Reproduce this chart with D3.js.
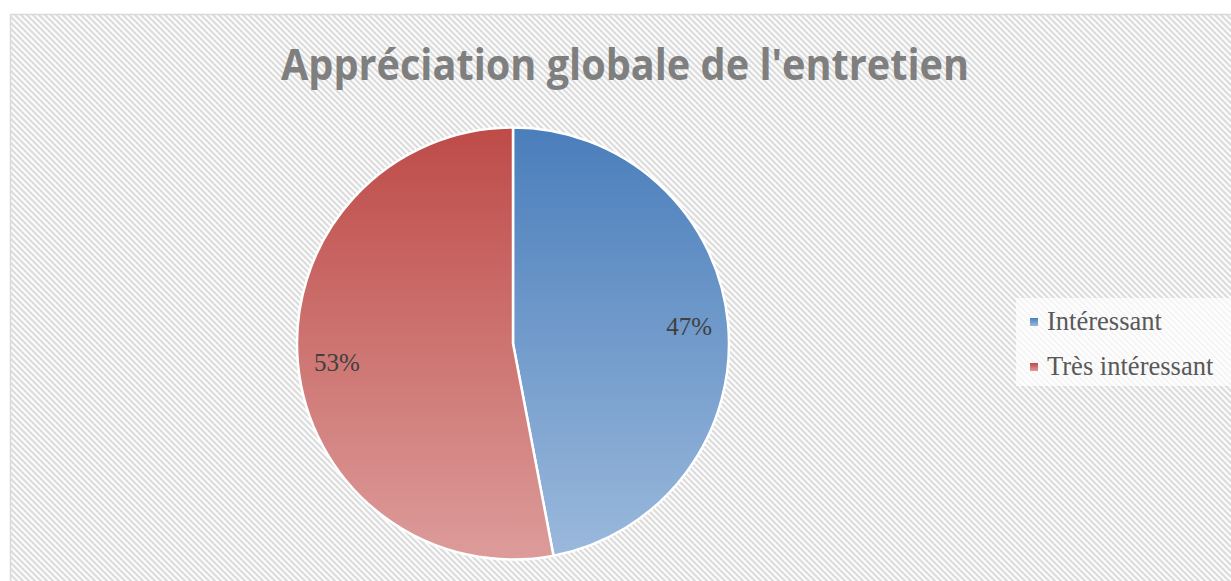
<!DOCTYPE html>
<html>
<head>
<meta charset="utf-8">
<script src="https://cdn.jsdelivr.net/npm/d3@7"></script>
<style>
  html, body { margin: 0; padding: 0; background: #fff; overflow: hidden; }
</style>
</head>
<body>
<div id="chart"></div>
<script>
// data
var categories = ["Intéressant", "Très intéressant"];
var values = [47, 53];
var labels = ["47%", "53%"];
var title = "Appréciation globale de l'entretien";

var width = 1231, height = 581;
var center = { x: 513, y: 343.5 };
var radius = 216;

var colorsTop = ["#4a7ebb", "#be4b48"];
var colorsBottom = ["#9bb9dc", "#dc9c9a"];

var svg = d3.select("#chart").append("svg")
    .attr("width", width)
    .attr("height", height);

var defs = svg.append("defs");

// hatched background
var pat = defs.append("pattern")
    .attr("id", "hatch")
    .attr("width", 6)
    .attr("height", 6)
    .attr("patternUnits", "userSpaceOnUse");
pat.append("rect").attr("width", 6).attr("height", 6).attr("fill", "#ffffff");
pat.append("path")
    .attr("d", "M-1,-1 L7,7 M-4,2 L2,8 M4,-2 L8,2")
    .attr("stroke", "#dedede")
    .attr("stroke-width", 2.4);

// slice gradients (in the pie group's space)
categories.forEach(function (c, i) {
    var g = defs.append("linearGradient")
        .attr("id", "grad" + i)
        .attr("gradientUnits", "userSpaceOnUse")
        .attr("x1", 0).attr("x2", 0)
        .attr("y1", -radius)
        .attr("y2", radius);
    g.append("stop").attr("offset", "0%").attr("stop-color", colorsTop[i]);
    g.append("stop").attr("offset", "100%").attr("stop-color", colorsBottom[i]);

    var lg = defs.append("linearGradient")
        .attr("id", "lg" + i)
        .attr("x1", 0).attr("x2", 0).attr("y1", 0).attr("y2", 1);
    lg.append("stop").attr("offset", "0%").attr("stop-color", colorsTop[i]);
    lg.append("stop").attr("offset", "100%").attr("stop-color", colorsBottom[i]);
});

// chart area
svg.append("rect")
    .attr("x", 10.5)
    .attr("y", 14.5)
    .attr("width", 1240)
    .attr("height", 600)
    .attr("fill", "url(#hatch)")
    .attr("stroke", "#d9d9d9")
    .attr("stroke-width", 1.5);

// title
var t = svg.append("text")
    .attr("x", 625)
    .attr("y", 80)
    .attr("text-anchor", "middle")
    .attr("font-family", "'Open Sans', sans-serif")
    .attr("font-weight", "bold")
    .attr("font-size", 43)
    .attr("fill", "#7f7f7f")
    .text(title);
var tl = t.node().getComputedTextLength();
if (Math.abs(tl - 688) > 4) {
    t.attr("textLength", 688).attr("lengthAdjust", "spacingAndGlyphs");
}

// pie
var pie = d3.pie().sort(null).value(function (d) { return d; });
var arc = d3.arc().innerRadius(0).outerRadius(radius);
var labelArc = d3.arc().innerRadius(177).outerRadius(177);

var g = svg.append("g")
    .attr("transform", "translate(" + center.x + "," + center.y + ")");

var arcs = pie(values);

g.selectAll("path.slice")
    .data(arcs)
    .enter()
    .append("path")
    .attr("class", "slice")
    .attr("d", arc)
    .attr("fill", function (d, i) { return "url(#grad" + i + ")"; })
    .attr("stroke", "#ffffff")
    .attr("stroke-width", 2.5)
    .attr("stroke-linejoin", "round");

g.selectAll("text.pct")
    .data(arcs)
    .enter()
    .append("text")
    .attr("class", "pct")
    .attr("x", function (d) { return labelArc.centroid(d)[0]; })
    .attr("y", function (d, i) { return labelArc.centroid(d)[1] + (i === 1 ? 3 : 0); })
    .attr("dy", "0.33em")
    .attr("text-anchor", "middle")
    .attr("font-family", "'Liberation Serif', serif")
    .attr("font-size", 25)
    .attr("fill", "#404040")
    .text(function (d, i) { return labels[i]; });

// legend
var legend = svg.append("g").attr("transform", "translate(1016,298)");
legend.append("rect")
    .attr("width", 230)
    .attr("height", 88)
    .attr("fill", "#ffffff")
    .attr("opacity", 0.7);

var item = legend.selectAll("g.item")
    .data(categories)
    .enter()
    .append("g")
    .attr("class", "item")
    .attr("transform", function (d, i) { return "translate(0," + (i * 45) + ")"; });

item.append("rect")
    .attr("x", 14)
    .attr("y", 20)
    .attr("width", 8)
    .attr("height", 8)
    .attr("fill", function (d, i) { return "url(#lg" + i + ")"; });

item.append("text")
    .attr("x", 31)
    .attr("y", 32)
    .attr("font-family", "'Liberation Serif', serif")
    .attr("font-size", 25)
    .attr("fill", "#595959")
    .text(function (d) { return d; });

var first = item.select("text").node();
var fw = first.getComputedTextLength();
if (fw > 0) {
    var fs = 25 * 115 / fw;
    item.selectAll("text").attr("font-size", Math.min(28, fs));
}
</script>
</body>
</html>
